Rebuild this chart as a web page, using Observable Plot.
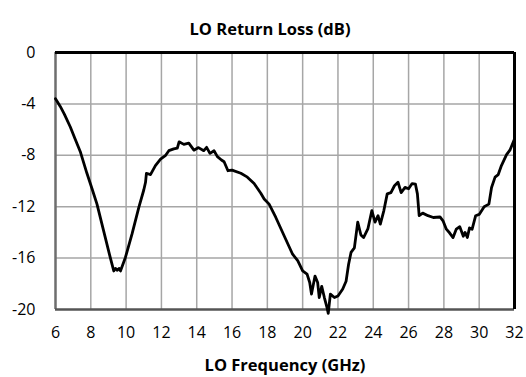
<!DOCTYPE html>
<html>
<head>
<meta charset="utf-8">
<script src="https://cdn.jsdelivr.net/npm/d3@7"></script>
<script src="https://cdn.jsdelivr.net/npm/@observablehq/plot@0.6"></script>
<style>
  html, body { margin: 0; padding: 0; background: #fff; }
  #chart svg { display: block; }
</style>
</head>
<body>
<div id="chart"></div>
<script>
// LO return loss sweep, 6–32 GHz
const freqGHz = [
  6.0, 6.27, 6.5, 6.84, 7.1, 7.4, 7.78, 8.07, 8.35, 8.73,
  9.1, 9.3, 9.4, 9.5, 9.6, 9.68, 9.96, 10.34, 10.72, 11.0,
  11.1, 11.15, 11.38, 11.66, 11.95, 12.24, 12.42, 12.7, 12.9, 13.0,
  13.27, 13.55, 13.84, 14.1, 14.4, 14.56, 14.75, 14.98, 15.17, 15.4,
  15.55, 15.77, 16.0, 16.5, 16.87, 17.25, 17.63, 17.82, 18.1, 18.48,
  18.95, 19.43, 19.72, 20.0, 20.25, 20.4, 20.5, 20.7, 20.85, 20.94,
  21.08, 21.23, 21.38, 21.45, 21.57, 21.8, 22.0, 22.27, 22.46, 22.6,
  22.74, 22.93, 23.12, 23.3, 23.45, 23.7, 23.92, 24.1, 24.27, 24.4,
  24.6, 24.79, 25.0, 25.2, 25.4, 25.58, 25.8, 26.0, 26.2, 26.39,
  26.5, 26.6, 26.8, 27.1, 27.4, 27.78, 27.95, 28.14, 28.33, 28.52,
  28.7, 28.9, 29.1, 29.2, 29.33, 29.45, 29.6, 29.8, 30.0, 30.28,
  30.55, 30.7, 30.9, 31.08, 31.26, 31.55, 31.74, 32.0
];
const lossDb = [
  -3.6, -4.2, -4.8, -5.8, -6.7, -7.7, -9.4, -10.6, -11.8, -13.9,
  -15.95, -17.0, -16.8, -16.95, -16.8, -17.0, -15.95, -14.1, -12.05, -10.7,
  -10.1, -9.4, -9.5, -8.8, -8.3, -8.0, -7.64, -7.5, -7.45, -6.95,
  -7.15, -7.05, -7.6, -7.4, -7.64, -7.38, -7.85, -7.65, -8.1, -8.37,
  -8.5, -9.2, -9.15, -9.4, -9.7, -10.2, -10.95, -11.4, -11.8, -12.84,
  -14.26, -15.7, -16.2, -17.0, -17.25, -17.9, -18.8, -17.4, -17.9, -19.07,
  -18.2, -19.07, -19.85, -20.3, -18.8, -19.07, -18.95, -18.4, -17.8, -16.5,
  -15.56, -15.2, -13.2, -14.2, -14.4, -13.7, -12.3, -13.2, -12.7, -13.35,
  -12.3, -11.0, -10.9, -10.37, -10.1, -10.9, -10.5, -10.6, -10.2, -10.25,
  -11.0, -12.7, -12.5, -12.7, -12.84, -12.8, -13.1, -13.75, -14.05, -14.4,
  -13.75, -13.56, -14.3, -14.0, -14.4, -13.65, -13.75, -12.7, -12.6, -12.0,
  -11.8, -10.5, -9.7, -9.5, -8.8, -7.95, -7.6, -6.73
];
const xTicks = [6, 8, 10, 12, 14, 16, 18, 20, 22, 24, 26, 28, 30, 32];
const yTicks = [0, -4, -8, -12, -16, -20];
const titleText = "LO Return Loss (dB)";
const xLabelText = "LO Frequency (GHz)";

const sweep = freqGHz.map((f, i) => ({f, db: lossDb[i]}));
const innerX = xTicks.slice(1, -1);
const innerY = yTicks.slice(1, -1);

const chart = Plot.plot({
  width: 526,
  height: 377,
  marginTop: 52,
  marginBottom: 68,
  marginLeft: 55,
  marginRight: 12,
  style: {fontFamily: "'Open Sans', sans-serif", fontSize: "16px", color: "#000", background: "#fff"},
  x: {domain: [6, 32]},
  y: {domain: [-20, 0]},
  marks: [
    Plot.ruleX(innerX, {stroke: "#a6a6a6", strokeWidth: 1.5}),
    Plot.ruleY(innerY, {stroke: "#a6a6a6", strokeWidth: 1.5}),
    Plot.ruleX([xTicks[0]], {stroke: "#6e6e6e", strokeWidth: 2.5}),
    Plot.ruleY([yTicks[yTicks.length - 1]], {stroke: "#555", strokeWidth: 2.5}),
    Plot.ruleY([yTicks[0]], {stroke: "#000", strokeWidth: 3}),
    Plot.ruleX([xTicks[xTicks.length - 1]], {stroke: "#000", strokeWidth: 3}),
    Plot.line(sweep, {x: "f", y: "db", stroke: "#000", strokeWidth: 2.8, strokeLinejoin: "round", strokeLinecap: "round"}),
    Plot.axisX({ticks: xTicks, tickSize: 0, tickPadding: 17, tickFormat: d => String(d), label: null, fill: "#000"}),
    Plot.axisY({ticks: yTicks, tickSize: 0, tickPadding: 20, tickFormat: d => String(d), label: null, fill: "#000"}),
    Plot.text([titleText], {text: d => d, frameAnchor: "top", dy: -29, dx: -15, fontWeight: "bold", fontSize: 16.5, fill: "#000"}),
    Plot.text([xLabelText], {text: d => d, frameAnchor: "bottom", dy: 61, fontWeight: "bold", fontSize: 16.5, fill: "#000"})
  ]
});
document.getElementById("chart").appendChild(chart);
</script>
</body>
</html>
